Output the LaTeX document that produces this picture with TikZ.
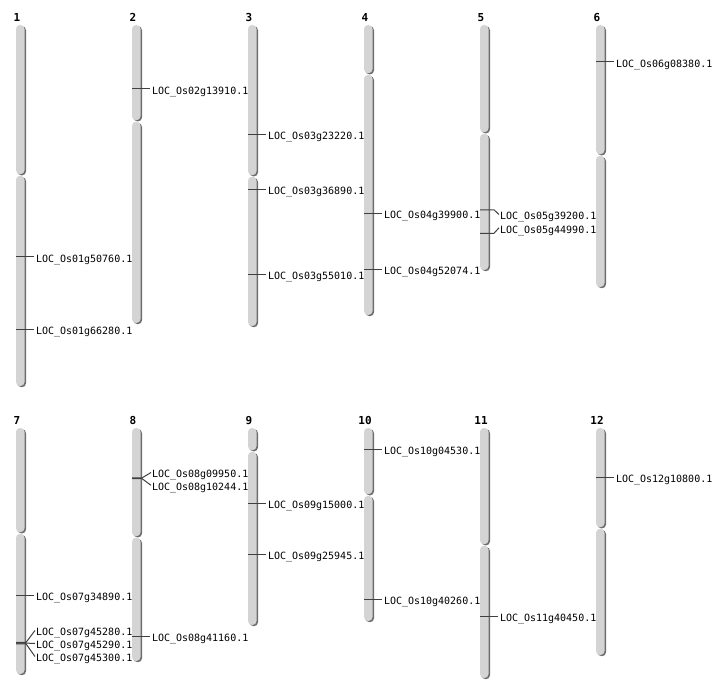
\documentclass[tikz,border=0pt]{standalone}
\usepackage{fontspec}
\usetikzlibrary{shadows}
\newfontfamily\monof{DejaVu Sans Mono}
\definecolor{armfill}{HTML}{D4D4D4}
\definecolor{armshadow}{HTML}{6E6E6E}
\definecolor{markc}{HTML}{404040}
\tikzset{
  arm/.style={rectangle, rounded corners=4pt, fill=armfill, draw=none,
    minimum width=8.5pt, inner sep=0pt, outer sep=0pt,
    general shadow={shadow xshift=1.5pt, shadow yshift=-1.2pt, fill=armshadow}},
  chrlab/.style={anchor=base, inner sep=0pt, font=\monof\bfseries\fontsize{11}{12}\selectfont},
  genelab/.style={anchor=west, inner sep=0pt, outer sep=1pt, text height=10.6pt, text depth=0pt,
    font=\monof\fontsize{10}{12}\selectfont},
  markline/.style={draw=markc, line width=1pt},
}
\newcommand\drawchr[5]{%
  \pgfmathsetmacro\hA{#4-0.8-#3}%
  \pgfmathsetmacro\hB{#5-#4-0.8}%
  \node[arm, minimum height=\hA pt, anchor=north west] (c#1p) at (#2,#3) {};
  \node[arm, minimum height=\hB pt, anchor=north west] (c#1q) at (#2,#4+0.8) {};
  \node[chrlab] (n#1) at (#2+1,#3-3.3) {#1};
}
\newcommand\gene[4]{%
  \coordinate (m#1) at (#2,#3);
  \node[genelab] (g#1) at (#2+19,#3) {#4};
  \draw[markline] (m#1) -- ([xshift=-1pt]g#1.west);
}
\begin{document}
\begin{tikzpicture}[x=1pt,y=-1pt]
\useasboundingbox[fill=white] (0,0) rectangle (712,700);
% chromosomes: num, left, top, centromere, bottom
\drawchr{1}{16}{25}{175}{386}
\drawchr{2}{132}{25}{121}{323}
\drawchr{3}{248}{25}{176}{326}
\drawchr{4}{364}{25}{74}{315}
\drawchr{5}{480}{25}{133}{270}
\drawchr{6}{596}{25}{155}{287}
\drawchr{7}{16}{428}{533}{674}
\drawchr{8}{132}{428}{537}{661}
\drawchr{9}{248}{428}{451}{625}
\drawchr{10}{364}{428}{495}{621}
\drawchr{11}{480}{428}{545}{678}
\drawchr{12}{596}{428}{528}{655}
% single genes
\gene{1a}{16}{257}{LOC\_Os01g50760.1}
\gene{1b}{16}{329.5}{LOC\_Os01g66280.1}
\gene{2a}{132}{89}{LOC\_Os02g13910.1}
\gene{3a}{248}{134.5}{LOC\_Os03g23220.1}
\gene{3b}{248}{189.5}{LOC\_Os03g36890.1}
\gene{3c}{248}{274.5}{LOC\_Os03g55010.1}
\gene{4a}{364}{213.5}{LOC\_Os04g39900.1}
\gene{4b}{364}{269.5}{LOC\_Os04g52074.1}
\gene{6a}{596}{62}{LOC\_Os06g08380.1}
\gene{7a}{16}{595.5}{LOC\_Os07g34890.1}
\gene{8c}{132}{636.5}{LOC\_Os08g41160.1}
\gene{9a}{248}{503.5}{LOC\_Os09g15000.1}
\gene{9b}{248}{554.5}{LOC\_Os09g25945.1}
\gene{10a}{364}{449}{LOC\_Os10g04530.1}
\gene{10b}{364}{599.5}{LOC\_Os10g40260.1}
\gene{11a}{480}{616.5}{LOC\_Os11g40450.1}
\gene{12a}{596}{477.5}{LOC\_Os12g10800.1}
% chromosome 5 fan
\coordinate (m5a) at (480,209.8);
\coordinate (j5a) at (494,209.8);
\coordinate (m5b) at (480,233.3);
\coordinate (j5b) at (494,233.3);
\node[genelab] (g5a) at (499,214.5) {LOC\_Os05g39200.1};
\node[genelab] (g5b) at (499,227.8) {LOC\_Os05g44990.1};
\draw[markline] (m5a) -- (j5a) -- (g5a.west);
\draw[markline] (m5b) -- (j5b) -- (g5b.west);
% chromosome 7 fan
\coordinate (m7b) at (16,642.4);
\coordinate (j7b) at (26,642.4);
\coordinate (m7c) at (16,643.1);
\coordinate (j7c) at (26,643.1);
\coordinate (m7d) at (16,643.8);
\coordinate (j7d) at (26,643.8);
\node[genelab] (g7b) at (35,630.5) {LOC\_Os07g45280.1};
\node[genelab] (g7c) at (35,643.5) {LOC\_Os07g45290.1};
\node[genelab] (g7d) at (35,656.5) {LOC\_Os07g45300.1};
\draw[markline] (m7b) -- (j7b) -- (g7b.west);
\draw[markline] (m7c) -- (j7c) -- (g7c.west);
\draw[markline] (m7d) -- (j7d) -- (g7d.west);
% chromosome 8 fan
\coordinate (m8a) at (132,477.9);
\coordinate (j8a) at (142,477.9);
\coordinate (m8b) at (132,478.6);
\coordinate (j8b) at (142,478.6);
\node[genelab] (g8a) at (151,472.5) {LOC\_Os08g09950.1};
\node[genelab] (g8b) at (151,485.3) {LOC\_Os08g10244.1};
\draw[markline] (m8a) -- (j8a) -- (g8a.west);
\draw[markline] (m8b) -- (j8b) -- (g8b.west);
\end{tikzpicture}
\end{document}
